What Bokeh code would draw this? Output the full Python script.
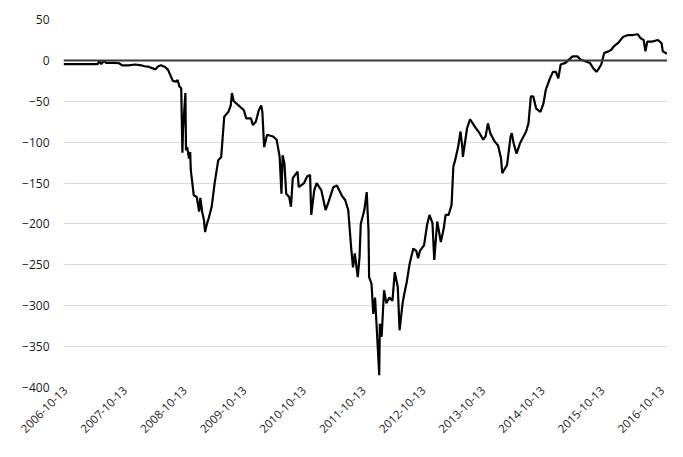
import numpy as np
import pandas as pd
from math import pi
from bokeh.plotting import figure
from bokeh.models import FixedTicker, Span, DatetimeTickFormatter, Range1d, ColumnDataSource
from bokeh.embed import file_html
from bokeh.resources import INLINE

tick_labels = ["2006-10-13", "2007-10-13", "2008-10-13", "2009-10-13", "2010-10-13",
               "2011-10-13", "2012-10-13", "2013-10-13", "2014-10-13", "2015-10-13",
               "2016-10-13"]
y_ticks = [50, 0, -50, -100, -150, -200, -250, -300, -350, -400]

# decimal-year time stamps and values
years = [2006.75, 2007.02, 2007.32, 2007.35, 2007.38, 2007.43, 2007.46, 2007.60, 2007.68, 2007.73,
         2007.84, 2007.95, 2008.05, 2008.12, 2008.16, 2008.29, 2008.33, 2008.38, 2008.45, 2008.50,
         2008.58, 2008.63, 2008.66, 2008.69, 2008.72, 2008.74, 2008.75, 2008.79, 2008.80, 2008.82,
         2008.85, 2008.87, 2008.88, 2008.93, 2008.98, 2009.02, 2009.04, 2009.07, 2009.10, 2009.12,
         2009.15, 2009.18, 2009.23, 2009.28, 2009.34, 2009.39, 2009.44, 2009.51, 2009.55, 2009.57,
         2009.60, 2009.68, 2009.77, 2009.81, 2009.89, 2009.92, 2009.97, 2010.02, 2010.06, 2010.08,
         2010.11, 2010.16, 2010.26, 2010.32, 2010.37, 2010.40, 2010.42, 2010.45, 2010.48, 2010.53,
         2010.56, 2010.59, 2010.67, 2010.69, 2010.78, 2010.83, 2010.88, 2010.90, 2010.95, 2010.99,
         2011.07, 2011.14, 2011.19, 2011.27, 2011.33, 2011.41, 2011.47, 2011.52, 2011.57, 2011.60,
         2011.63, 2011.68, 2011.71, 2011.73, 2011.79, 2011.83, 2011.86, 2011.87, 2011.91, 2011.94,
         2011.97, 2012.00, 2012.04, 2012.05, 2012.08, 2012.12, 2012.16, 2012.21, 2012.26, 2012.30,
         2012.35, 2012.38, 2012.43, 2012.46, 2012.50, 2012.55, 2012.61, 2012.66, 2012.69, 2012.72,
         2012.79, 2012.84, 2012.88, 2012.93, 2012.96, 2013.01, 2013.07, 2013.12, 2013.15, 2013.20,
         2013.25, 2013.28, 2013.31, 2013.36, 2013.40, 2013.43, 2013.44, 2013.51, 2013.56, 2013.64,
         2013.72, 2013.78, 2013.82, 2013.86, 2013.90, 2013.97, 2014.03, 2014.08, 2014.10, 2014.13,
         2014.18, 2014.24, 2014.26, 2014.29, 2014.34, 2014.40, 2014.50, 2014.54, 2014.58, 2014.62,
         2014.67, 2014.74, 2014.79, 2014.83, 2014.90, 2014.95, 2015.00, 2015.04, 2015.08, 2015.16,
         2015.22, 2015.28, 2015.36, 2015.41, 2015.49, 2015.57, 2015.63, 2015.68, 2015.72, 2015.76,
         2015.81, 2015.88, 2015.93, 2015.97, 2016.04, 2016.13, 2016.21, 2016.29, 2016.37, 2016.42,
         2016.47, 2016.50, 2016.53, 2016.61, 2016.71, 2016.77, 2016.79, 2016.86]
values = [-4.5, -4.5, -4.5, -1, -4.5, -0.5, -3, -3, -3.5, -6,
          -6, -5, -6, -7.5, -7.5, -11, -7.5, -6, -8, -11.6,
          -25, -26, -24, -32, -34, -113, -85, -40, -110, -106,
          -120, -112, -134, -165, -167, -185, -168, -185, -195, -210,
          -200, -193, -179, -150, -122, -118, -69, -63, -55, -40,
          -50, -55, -61, -71, -71, -79, -75, -61, -55, -63,
          -106, -91, -93, -97, -118, -163, -116, -126, -163, -167,
          -179, -144, -136, -155, -150, -142, -140, -189, -159, -150,
          -159, -183, -173, -155, -153, -165, -171, -183, -230, -253,
          -236, -265, -240, -200, -183, -161, -208, -265, -273, -310,
          -290, -330, -385, -322, -338, -281, -297, -290, -294, -259,
          -277, -330, -297, -285, -271, -248, -230, -233, -242, -233,
          -226, -201, -189, -199, -244, -197, -222, -205, -189, -189,
          -177, -130, -122, -106, -87, -106, -118, -83, -72, -81,
          -89, -97, -93, -77, -89, -99, -104, -120, -138, -134,
          -128, -93, -89, -101, -114, -101, -87, -77, -44, -44,
          -59, -63, -53, -36, -22, -14, -14, -22, -5, -3,
          1, 5, 5, 1, -1, -3, -10, -14, -10, -5,
          9, 11, 13, 17, 21, 29, 31, 31, 32, 27,
          25, 11, 23, 23, 25, 21, 11, 8]

x_start = "2006-10-01"
x_end = "2016-11-14"
y_min, y_max = -400, 50


def dec_to_ts(y):
    yr = int(np.floor(y))
    start = pd.Timestamp(yr, 1, 1)
    end = pd.Timestamp(yr + 1, 1, 1)
    return start + (end - start) * (y - yr)


dates = [dec_to_ts(y) for y in years]
src = ColumnDataSource(dict(x=dates, y=values))

tick_ms = [pd.Timestamp(s).value / 1e6 for s in tick_labels]

p = figure(width=667, height=441, output_backend="svg", toolbar_location=None,
           x_axis_type="datetime",
           x_range=Range1d(pd.Timestamp(x_start), pd.Timestamp(x_end)),
           y_range=Range1d(y_min, y_max),
           min_border_left=63, min_border_right=0, min_border_top=19, min_border_bottom=54)

p.outline_line_color = None
p.background_fill_color = "white"
p.border_fill_color = "white"

p.line("x", "y", source=src, line_color="black", line_width=2.2)

zero = Span(location=0, dimension="width", line_color="#3a3a3a", line_width=2)
p.add_layout(zero)

p.xgrid.grid_line_color = None
p.ygrid.grid_line_color = "#d9d9d9"
p.ygrid.grid_line_width = 1

p.yaxis.ticker = FixedTicker(ticks=y_ticks)
p.yaxis.axis_line_color = None
p.yaxis.major_tick_line_color = None
p.yaxis.minor_tick_line_color = None
p.yaxis.major_tick_out = 0
p.yaxis.major_tick_in = 0
p.yaxis.major_label_text_font = "Open Sans"
p.yaxis.major_label_text_font_size = "12px"
p.yaxis.major_label_text_color = "#1a1a1a"
p.yaxis.major_label_standoff = 14

p.xaxis.ticker = FixedTicker(ticks=tick_ms)
fmt = "%Y-%m-%d"
p.xaxis.formatter = DatetimeTickFormatter(years=fmt, months=fmt, days=fmt, hours=fmt,
                                          minutes=fmt, seconds=fmt, milliseconds=fmt,
                                          microseconds=fmt, hourmin=fmt, minsec=fmt)
p.xaxis.axis_line_color = None
p.xaxis.major_tick_line_color = None
p.xaxis.minor_tick_line_color = None
p.xaxis.major_tick_out = 0
p.xaxis.major_tick_in = 0
p.xaxis.major_label_orientation = pi / 4
p.xaxis.major_label_text_font = "Open Sans"
p.xaxis.major_label_text_font_size = "11.5px"
p.xaxis.major_label_text_color = "#1a1a1a"
p.xaxis.major_label_standoff = 1

open("out.html", "w").write(file_html(p, INLINE))
